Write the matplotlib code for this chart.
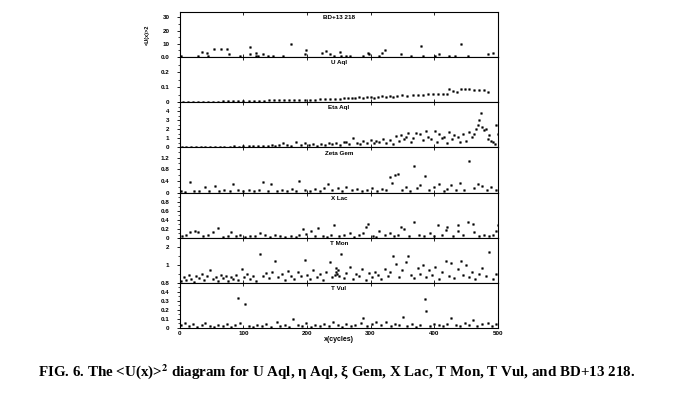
import matplotlib
matplotlib.use("Agg")
import matplotlib.pyplot as plt
from matplotlib.ticker import AutoMinorLocator

# panel titles, y ranges and y tick values (top to bottom)
names = ["BD+13 218", "U Aql", "Eta Aql", "Zeta Gem", "X Lac", "T Mon", "T Vul"]
ylims = [34, 0.3, 5, 1.55, 1.0, 2.5, 0.5]
yticks = [[0, 10, 20, 30], [0, 0.1, 0.2], [0, 1, 2, 3, 4], [0, 0.4, 0.8, 1.2],
          [0, 0.2, 0.4, 0.6, 0.8], [0, 1, 2], [0, 0.1, 0.2, 0.3, 0.4]]
# bottom labels of panels 1 and 6 print over the top label of the next panel in the original
ylabels = [["0.0", "10", "20", "30"], ["0", "0.1", "0.2"], ["0", "1", "2", "3", "4"],
           ["0", "0.4", "0.8", "1.2"], ["0", "0.2", "0.4", "0.6", "0.8"],
           ["0.8", "1", "2"], ["0", "0.1", "0.2", "0.3", "0.4"]]

bd_x = [1, 29, 34, 43, 44, 53, 65, 74, 77, 94, 111, 111, 119, 120, 123, 131, 139, 147, 162, 175,
        196, 199, 223, 230, 236, 243, 252, 254, 262, 267, 288, 296, 298, 314, 318, 322, 348, 364,
        380, 382, 401, 408, 424, 433, 442, 454, 484, 492]
bd_y = [0.5, 0.5, 4, 3, 1, 6, 6, 6, 2, 1, 7.5, 2, 3, 1, 0.5, 2, 1, 1, 0.5, 10,
        2.5, 5.5, 3, 4.5, 2, 1, 4, 1, 0.5, 0.5, 0.5, 3, 2.5, 0.5, 3, 5.5, 2.5, 1,
        8, 1, 1, 2, 1, 1, 10, 1, 2, 3]

ua_x = [5, 12, 20, 28, 36, 44, 52, 60, 68, 76, 84, 92, 100, 108, 116, 124, 132, 140, 148, 156,
        164, 172, 180, 188, 196, 204, 212, 220, 228, 236, 244, 252, 258, 264, 270, 276, 282, 288,
        294, 300, 306, 312, 318, 324, 330, 336, 342, 350, 358, 366, 374, 382, 390, 398, 406, 414,
        420, 424, 430, 436, 442, 448, 455, 462, 470, 478, 485]
ua_y = [0.000, 0.001, 0.001, 0.002, 0.002, 0.003, 0.003, 0.004, 0.005, 0.005,
        0.006, 0.007, 0.008, 0.009, 0.009, 0.010, 0.011, 0.012, 0.013, 0.012,
        0.014, 0.015, 0.016, 0.015, 0.017, 0.018, 0.017, 0.020, 0.019, 0.021,
        0.022, 0.024, 0.028, 0.025, 0.030, 0.027, 0.032, 0.029, 0.034, 0.038,
        0.031, 0.036, 0.040, 0.034, 0.042, 0.038, 0.044, 0.046, 0.043, 0.048,
        0.047, 0.050, 0.052, 0.055, 0.054, 0.057, 0.058, 0.086, 0.075, 0.068,
        0.090, 0.085, 0.088, 0.084, 0.080, 0.078, 0.070]

ea_x = [3, 10, 18, 25, 33, 40, 48, 55, 63, 70, 78, 85, 93, 100, 108, 115, 123, 130, 138, 145,
        150, 156, 162, 168, 175, 183, 190, 196, 203, 210, 216, 222, 228, 234, 240, 246, 252, 258,
        262, 266, 272, 278, 283, 288, 294, 300, 305, 309, 314, 319, 324, 330, 335, 340, 344, 348,
        352, 356, 359, 363, 367, 372, 377, 382, 387, 391, 395, 401, 405, 408, 412, 416, 420, 424,
        428, 432, 437, 441, 445, 450, 455, 459, 463, 466, 469, 471, 473, 476, 479, 482, 485, 487,
        490, 492, 495, 497, 500]
ea_y = [0.02, 0.03, 0.02, 0.04, 0.03, 0.05, 0.04, 0.06, 0.05, 0.08,
        0.06, 0.1, 0.08, 0.12, 0.1, 0.15, 0.12, 0.2, 0.15, 0.25,
        0.18, 0.3, 0.45, 0.3, 0.2, 0.55, 0.25, 0.45, 0.3, 0.35,
        0.2, 0.4, 0.3, 0.5, 0.35, 0.45, 0.3, 0.6, 0.55, 0.4,
        1.0, 0.5, 0.35, 0.7, 0.5, 0.8, 0.45, 0.75, 0.6, 0.95,
        0.5, 0.85, 0.4, 1.25, 0.7, 1.4, 0.9, 1.15, 1.6, 0.6,
        1.05, 1.6, 1.5, 0.8, 1.8, 1.2, 0.95, 1.8, 0.6, 1.5,
        1.0, 1.2, 0.5, 1.7, 0.9, 1.35, 1.15, 0.6, 1.5, 0.75,
        1.7, 1.1, 1.5, 2.0, 2.45, 3.0, 3.8, 2.3, 1.9, 2.0,
        0.9, 1.35, 0.75, 0.55, 0.4, 2.45, 1.5]

zg_x = [2, 8, 16, 22, 30, 39, 45, 55, 62, 70, 78, 84, 92, 100, 108, 116, 124, 131, 138, 144,
        152, 160, 168, 176, 182, 188, 196, 204, 212, 220, 226, 233, 240, 248, 255, 262, 270, 278,
        286, 294, 302, 310, 318, 325, 330, 334, 338, 343, 350, 356, 362, 369, 373, 377, 385, 392,
        400, 408, 415, 421, 427, 434, 440, 447, 455, 462, 469, 476, 483, 490, 497]
zg_y = [0.05, 0.03, 0.36, 0.06, 0.04, 0.18, 0.05, 0.21, 0.04, 0.08,
        0.05, 0.3, 0.07, 0.04, 0.1, 0.05, 0.08, 0.36, 0.06, 0.3,
        0.04, 0.1, 0.06, 0.12, 0.04, 0.39, 0.08, 0.05, 0.12, 0.06,
        0.15, 0.3, 0.07, 0.14, 0.05, 0.2, 0.08, 0.12, 0.06, 0.1,
        0.16, 0.05, 0.12, 0.08, 0.53, 0.33, 0.6, 0.65, 0.1, 0.2,
        0.06, 0.92, 0.15, 0.27, 0.56, 0.08, 0.18, 0.3, 0.06, 0.12,
        0.27, 0.1, 0.33, 0.07, 1.09, 0.15, 0.3, 0.24, 0.1, 0.18, 0.08]

xl_x = [3, 10, 16, 23, 29, 36, 44, 52, 60, 68, 75, 81, 88, 94, 102, 110, 118, 126, 134, 142,
        150, 158, 166, 174, 182, 188, 194, 199, 207, 212, 217, 225, 232, 238, 243, 250, 258, 267,
        274, 281, 288, 293, 296, 303, 309, 314, 322, 330, 337, 343, 348, 353, 360, 369, 376, 384,
        393, 400, 406, 413, 419, 421, 429, 437, 437, 445, 453, 461, 463, 470, 478, 486, 492, 497, 500]
xl_y = [0.04, 0.07, 0.12, 0.14, 0.13, 0.03, 0.05, 0.12, 0.21, 0.02,
        0.04, 0.12, 0.03, 0.07, 0.02, 0.04, 0.03, 0.1, 0.07, 0.02,
        0.05, 0.03, 0.02, 0.04, 0.02, 0.06, 0.2, 0.08, 0.14, 0.03,
        0.21, 0.04, 0.02, 0.05, 0.27, 0.03, 0.06, 0.1, 0.02, 0.05,
        0.1, 0.23, 0.3, 0.04, 0.02, 0.14, 0.06, 0.1, 0.03, 0.05,
        0.23, 0.19, 0.04, 0.34, 0.06, 0.03, 0.1, 0.04, 0.28, 0.06,
        0.17, 0.23, 0.03, 0.27, 0.14, 0.05, 0.34, 0.3, 0.12, 0.04,
        0.06, 0.03, 0.05, 0.14, 0.27]

tm_x = [2, 6, 10, 14, 18, 22, 26, 30, 34, 38, 42, 47, 52, 56, 60, 64, 68, 72, 76, 80,
        84, 88, 92, 97, 101, 105, 110, 115, 120, 126, 130, 135, 140, 145, 149, 154, 160, 165,
        170, 175, 180, 185, 190, 196, 200, 205, 210, 215, 220, 225, 230, 236, 240, 244, 246, 246,
        247, 248, 250, 254, 258, 262, 267, 272, 277, 282, 287, 292, 297, 302, 307, 312, 317, 322,
        327, 331, 335, 340, 345, 350, 356, 359, 364, 369, 374, 378, 382, 387, 392, 397, 402, 407,
        412, 419, 423, 427, 432, 437, 442, 446, 450, 455, 460, 465, 470, 476, 481, 487, 492, 497]
tm_y = [0.1, 0.3, 0.15, 0.45, 0.2, 0.05, 0.35, 0.25, 0.5, 0.15,
        0.4, 0.7, 0.2, 0.3, 0.1, 0.45, 0.25, 0.35, 0.1, 0.3,
        0.2, 0.45, 0.15, 0.78, 0.3, 0.5, 0.2, 0.4, 0.1, 1.6,
        0.35, 0.55, 0.25, 0.6, 1.18, 0.3, 0.5, 0.15, 0.65, 0.4,
        0.2, 0.6, 0.35, 1.27, 0.45, 0.2, 0.7, 0.3, 0.5, 0.15,
        0.6, 1.15, 0.3, 0.45, 0.8, 0.6, 0.5, 0.7, 0.35, 1.6,
        0.25, 0.55, 0.9, 0.2, 0.5, 0.35, 0.75, 0.15, 0.55, 0.3,
        0.6, 0.45, 0.2, 0.75, 0.4, 0.6, 1.5, 1.05, 0.3, 0.7,
        1.15, 1.5, 0.45, 0.25, 0.8, 0.5, 1.0, 0.3, 0.7, 0.45,
        0.85, 0.2, 0.6, 1.18, 0.4, 1.1, 0.25, 0.75, 1.18, 0.45,
        0.96, 0.3, 0.6, 0.2, 0.5, 0.84, 0.35, 1.7, 0.2, 0.5]

tv_x = [2, 8, 14, 20, 27, 34, 40, 47, 54, 60, 67, 74, 80, 86, 92, 94, 102, 108, 115, 122,
        129, 136, 143, 152, 158, 165, 172, 178, 185, 192, 199, 206, 213, 220, 227, 234, 241, 248,
        255, 262, 269, 276, 285, 288, 295, 302, 309, 316, 325, 332, 339, 345, 351, 358, 365, 372,
        378, 385, 387, 393, 400, 407, 414, 420, 427, 434, 441, 448, 455, 461, 468, 476, 484, 491, 497]
tv_y = [0.03, 0.05, 0.02, 0.04, 0.01, 0.03, 0.05, 0.02, 0.01, 0.03,
        0.02, 0.04, 0.01, 0.03, 0.33, 0.05, 0.27, 0.02, 0.01, 0.03,
        0.02, 0.04, 0.01, 0.07, 0.02, 0.03, 0.01, 0.1, 0.03, 0.02,
        0.055, 0.01, 0.03, 0.02, 0.04, 0.02, 0.065, 0.03, 0.01, 0.04,
        0.02, 0.03, 0.05, 0.11, 0.02, 0.04, 0.07, 0.03, 0.065, 0.02,
        0.04, 0.03, 0.12, 0.02, 0.04, 0.01, 0.03, 0.32, 0.19, 0.02,
        0.04, 0.03, 0.02, 0.04, 0.11, 0.03, 0.02, 0.05, 0.03, 0.09,
        0.02, 0.04, 0.06, 0.02, 0.04]

series = [(bd_x, bd_y), (ua_x, ua_y), (ea_x, ea_y), (zg_x, zg_y),
          (xl_x, xl_y), (tm_x, tm_y), (tv_x, tv_y)]

fig = plt.figure(figsize=(6.79, 3.98), dpi=100)
gs = fig.add_gridspec(7, 1, left=0.265, right=0.733, top=0.970, bottom=0.176, hspace=0)

tfont = dict(family="Liberation Sans", fontsize=4.5, fontweight="bold")

for i, (xs, ys) in enumerate(series):
    ax = fig.add_subplot(gs[i])
    ax.plot(xs, ys, ls="none", marker="s", ms=1.2, mec="black", mfc="black", mew=0.3)
    ax.set_xlim(0, 500)
    ax.set_ylim(0, ylims[i])
    ax.set_yticks(yticks[i])
    ax.set_yticklabels(ylabels[i], **tfont)
    ax.yaxis.set_minor_locator(AutoMinorLocator(2))
    ax.tick_params(axis="y", which="major", direction="out", length=2.5, width=0.6, pad=5)
    ax.tick_params(axis="y", which="minor", direction="out", length=1.5, width=0.5)
    ax.set_xticks([0, 100, 200, 300, 400, 500])
    ax.tick_params(axis="x", direction="in", top=True, length=2.5, width=0.6, pad=2)
    for s in ax.spines.values():
        s.set_linewidth(0.8)
    ax.text(0.5, 0.93, names[i], transform=ax.transAxes, ha="center", va="top", **tfont)
    if i < 6:
        ax.set_xticklabels([])
    else:
        ax.set_xticklabels(["0", "100", "200", "300", "400", "500"], **tfont)
        ax.set_xlabel("x(cycles)", labelpad=0.5, fontsize=5, fontweight="bold",
                      family="Liberation Sans")

fig.text(147 / 679, 1 - 35 / 398, "<U(x)>2", rotation=90, ha="center", va="center",
         family="Liberation Sans", fontsize=4, fontweight="bold")

plt.rcParams["mathtext.fontset"] = "stix"
fig.text(38 / 679, 1 - 372 / 398,
         r"FIG. 6. The <U(x)>$^{\mathbf{2}}$ diagram for U Aql, η Aql, ξ Gem, X Lac, T Mon, T Vul, and BD+13 218.",
         ha="left", va="center", family="Liberation Serif", fontsize=10.8, fontweight="bold")

fig.savefig("out.png", dpi=100)
